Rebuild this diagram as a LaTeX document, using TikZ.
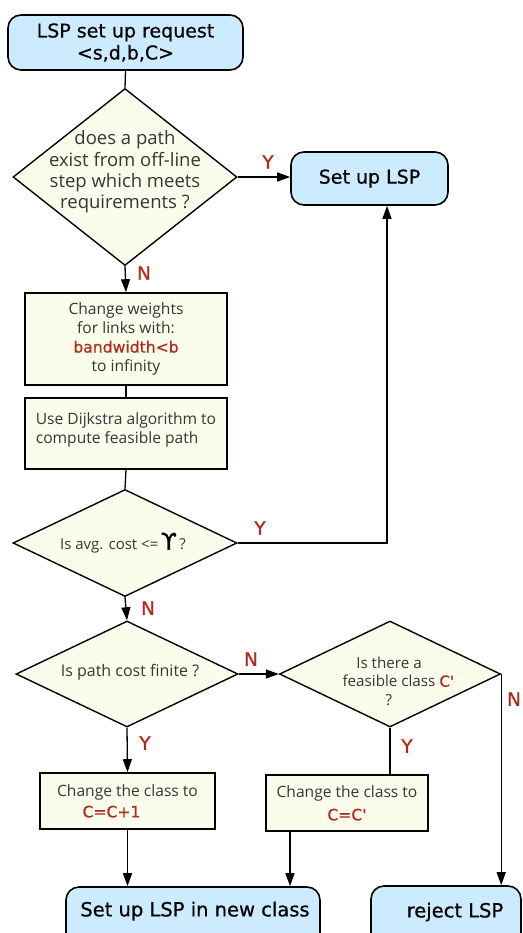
\documentclass[tikz,border=0pt]{standalone}
\usepackage{fontspec}
\setmainfont{Open Sans}
\newfontfamily\vfont{DejaVu Sans}
\newfontfamily\tfont[FakeBold=0.6]{DejaVu Sans}
\newfontfamily\lfont[FakeBold=1.0]{DejaVu Sans}
\usetikzlibrary{shapes.geometric,arrows.meta}
\definecolor{termfill}{HTML}{CCEBFE}
\definecolor{stepfill}{HTML}{FAFDEC}
\definecolor{lbl}{HTML}{B22A1C}
\definecolor{txt}{HTML}{363636}
\newcommand{\hl}[1]{{\tfont\textcolor{lbl}{#1}}}
\tikzset{
  terminal/.style={draw, line width=1.6pt, rounded corners=13pt, fill=termfill,
    inner sep=0pt, align=center, font=\tfont\fontsize{19}{22}\selectfont},
  termtext/.style={inner sep=0pt, font=\tfont\fontsize{19.5}{22}\selectfont},
  stepbox/.style={draw, line width=1.6pt, fill=stepfill, inner sep=0pt,
    text=txt, font=\fontsize{15.6}{19}\selectfont},
  decision/.style={draw, diamond, line width=1.4pt, fill=stepfill, inner sep=0pt},
  dtext/.style={inner sep=0pt, text=txt, align=center},
  flow/.style={line width=1.3pt},
  arrow/.style={flow, -{Triangle[length=13pt,width=9pt]}},
  yn/.style={inner sep=0pt, text=lbl, font=\lfont\fontsize{18.5}{20}\selectfont},
}
\begin{document}
\begin{tikzpicture}[x=1pt,y=-1pt]
\useasboundingbox (0,0) rectangle (522,933);
\clip (0,0) rectangle (522,933);

% terminals
\node[terminal, minimum width=235pt, minimum height=55pt] (req) at (125.5,42.5)
  {LSP set up request\\<s,d,b,C>};
\node[terminal, minimum width=157pt, minimum height=53pt] (setup) at (369.5,178.5)
  {Set up LSP};
\node[terminal, minimum width=254pt, minimum height=70pt] (new) at (193,922) {};
\node[termtext] (newt) at (195,911) {Set up LSP in new class};
\node[terminal, minimum width=150pt, minimum height=70pt] (rej) at (446,921) {};
\node[termtext] (rejt) at (455,912) {reject LSP};

% decisions
\node[decision, minimum width=224pt, minimum height=177pt] (d1) at (125,177) {};
\node[dtext, font=\fontsize{18.5}{21.3}\selectfont] (d1t) at (125,172)
  {does a path\\exist from off-line\\step which meets\\requirements ?};
\node[decision, minimum width=224pt, minimum height=107pt] (d2) at (125,543) {};
\node[dtext, font=\fontsize{15}{18}\selectfont] (d2t) at (123,543)
  {Is avg. cost <=\,{\lfont\color{black}\fontsize{23}{23}\selectfont ϒ}\,?};
\node[decision, minimum width=222pt, minimum height=106pt] (d3) at (127,674) {};
\node[dtext, font=\fontsize{16}{19}\selectfont] (d3t) at (130,672)
  {Is path cost finite ?};
\node[decision, minimum width=221pt, minimum height=106pt] (d4) at (390,674) {};
\node[dtext, font=\fontsize{15.2}{18.5}\selectfont] (d4t) at (389,681)
  {Is there a\\feasible class\rlap{ \hl{C'}}\\?};

% process steps
\node[stepbox, minimum width=202pt, minimum height=92pt, align=center] (w1) at (126,339)
  {Change weights\\ for links with:\\ \hl{bandwidth<b}\\ to infinity};
\node[stepbox, minimum width=202pt, minimum height=71pt] (dij) at (126,433.5) {};
\node[dtext, align=left, font=\fontsize{15.6}{19}\selectfont] (dijt) at (126,430)
  {Use Dijkstra algorithm to\\compute feasible path};
\node[stepbox, minimum width=175pt, minimum height=56pt, align=center] (cc1) at (127.5,801)
  {Change the class to\\[2pt]\hspace*{-32pt}\hl{C=C+1}};
\node[stepbox, minimum width=162pt, minimum height=56pt, align=center] (cc2) at (347,803)
  {Change the class to\\[4pt]\hl{C=C'}};

% turning point of the Y branch from d2
\coordinate (c1) at (387,543);

% connectors
\draw[flow] (req.south) -- (d1.north);
\draw[arrow] (d1.east) -- (d1.east -| setup.west);
\draw[arrow] (d1.south) -- (w1.north);
\draw[flow] (w1.south) -- (dij.north);
\draw[flow] (dij.south) -- (d2.north);
\draw[arrow] (d2.east) -- (c1) -- (c1 |- setup.south);
\draw[arrow] (d2.south) -- (d3.north);
\draw[arrow] (d3.east) -- (d4.west);
\draw[arrow] (d4.east) -- (d4.east |- rej.north);
\draw[flow] (d4.south) -- (d4.south |- cc2.north);
\draw[arrow] (d3.south) -- (cc1.north);
\draw[arrow] (cc1.south) -- (cc1.south |- new.north);
\draw[arrow] ([xshift=-57pt]cc2.south) -- ([xshift=-57pt]cc2.south |- new.north);

% branch labels
\node[yn] (y1) at (268,162) {Y};
\node[yn] (n1) at (144,273) {N};
\node[yn] (y2) at (260,528) {Y};
\node[yn] (n2) at (148,608) {N};
\node[yn] (n3) at (251,659) {N};
\node[yn] (y3) at (145,743) {Y};
\node[yn] (y4) at (407,746) {Y};
\node[yn] (n4) at (514,699) {N};
\end{tikzpicture}
\end{document}
